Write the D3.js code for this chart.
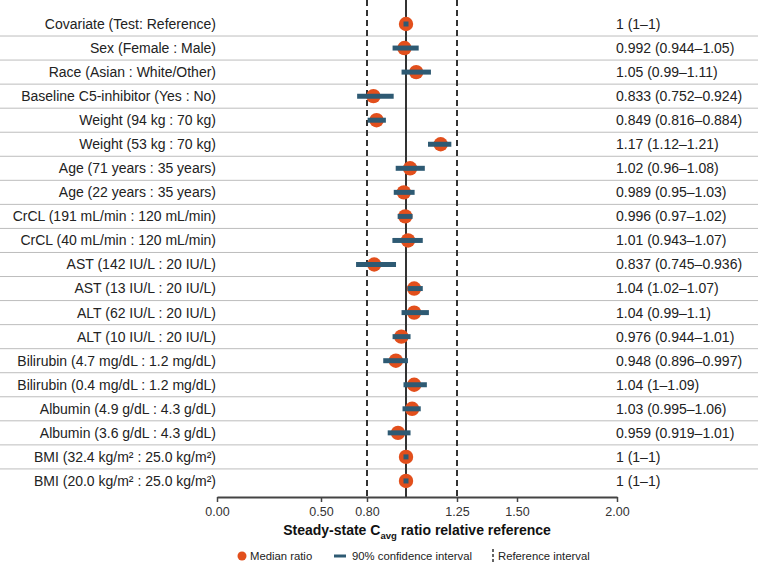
<!DOCTYPE html>
<html>
<head>
<meta charset="utf-8">
<script src="https://cdn.jsdelivr.net/npm/d3@7"></script>
<style>
  body { margin: 0; background: #fff; }
  text { font-family: "Liberation Sans", Arial, sans-serif; }
</style>
</head>
<body>
<div id="chart"></div>
<script>
// covariate rows, top to bottom
var labels = [
  'Covariate (Test: Reference)',
  'Sex (Female : Male)',
  'Race (Asian : White/Other)',
  'Baseline C5-inhibitor (Yes : No)',
  'Weight (94 kg : 70 kg)',
  'Weight (53 kg : 70 kg)',
  'Age (71 years : 35 years)',
  'Age (22 years : 35 years)',
  'CrCL (191 mL/min : 120 mL/min)',
  'CrCL (40 mL/min : 120 mL/min)',
  'AST (142 IU/L : 20 IU/L)',
  'AST (13 IU/L : 20 IU/L)',
  'ALT (62 IU/L : 20 IU/L)',
  'ALT (10 IU/L : 20 IU/L)',
  'Bilirubin (4.7 mg/dL : 1.2 mg/dL)',
  'Bilirubin (0.4 mg/dL : 1.2 mg/dL)',
  'Albumin (4.9 g/dL : 4.3 g/dL)',
  'Albumin (3.6 g/dL : 4.3 g/dL)',
  'BMI (32.4 kg/m\u00b2 : 25.0 kg/m\u00b2)',
  'BMI (20.0 kg/m\u00b2 : 25.0 kg/m\u00b2)'
];
var medians = [1, 0.992, 1.05, 0.833, 0.849, 1.17, 1.02, 0.989, 0.996, 1.01,
               0.837, 1.04, 1.04, 0.976, 0.948, 1.04, 1.03, 0.959, 1, 1];
var ci_lo   = [1, 0.944, 0.99, 0.752, 0.816, 1.12, 0.96, 0.95, 0.97, 0.943,
               0.745, 1.02, 0.99, 0.944, 0.896, 1, 0.995, 0.919, 1, 1];
var ci_hi   = [1, 1.05, 1.11, 0.924, 0.884, 1.21, 1.08, 1.03, 1.02, 1.07,
               0.936, 1.07, 1.1, 1.01, 0.997, 1.09, 1.06, 1.01, 1, 1];
var tick_values = [0, 0.5, 0.8, 1.25, 1.5, 2];
var ref_interval = [0.8, 1.25];
var ref_value = 1;

function ForestPlotter() {
  this._width = 758;
  this._height = 565;
  this._row_top = 24;
  this._row_step = 24.05;
  this._axis_y = 497;
  this._label_x = 216;
  this._value_x = 616;
  this._font_size = '14px';
  this._orange = '#e24f1c';
  this._blue = '#2e5a73';
  this._dark = '#333333';
}

ForestPlotter.prototype._make_x = function() {
  // the source axis is not evenly spaced, so map tick by tick
  return d3.scaleLinear()
    .domain([0, 0.5, 0.8, 1, 1.25, 1.5, 2])
    .range([217, 321, 367, 406, 457, 517, 617]);
}

ForestPlotter.prototype._plot_rows = function(svg, x, y) {
  let N = labels.length;
  let rows = Array.from(Array(N).keys());

  svg.append('g').selectAll('line')
    .data(rows.slice(0, N - 1))
    .join('line')
    .attr('x1', 0).attr('x2', this._width)
    .attr('y1', d => y(d) + this._row_step / 2)
    .attr('y2', d => y(d) + this._row_step / 2)
    .attr('stroke', '#bdbdbd')
    .attr('stroke-width', 1);

  svg.append('g').selectAll('text')
    .data(rows)
    .join('text')
    .attr('x', this._label_x)
    .attr('y', d => y(d))
    .attr('dy', '0.35em')
    .attr('text-anchor', 'end')
    .attr('font-size', this._font_size)
    .attr('fill', '#222')
    .text(d => labels[d]);

  svg.append('g').selectAll('text')
    .data(rows)
    .join('text')
    .attr('x', this._value_x)
    .attr('y', d => y(d))
    .attr('dy', '0.35em')
    .attr('font-size', this._font_size)
    .attr('fill', '#222')
    .text(d => medians[d] + ' (' + ci_lo[d] + '\u2013' + ci_hi[d] + ')');

  // reference lines
  svg.append('g').selectAll('line')
    .data(ref_interval)
    .join('line')
    .attr('x1', d => x(d)).attr('x2', d => x(d))
    .attr('y1', 0).attr('y2', this._axis_y)
    .attr('stroke', this._dark)
    .attr('stroke-width', 2)
    .attr('stroke-dasharray', '6,4');

  svg.append('line')
    .attr('x1', x(ref_value)).attr('x2', x(ref_value))
    .attr('y1', 0).attr('y2', this._axis_y)
    .attr('stroke', this._dark)
    .attr('stroke-width', 2);

  svg.append('g').selectAll('circle')
    .data(rows)
    .join('circle')
    .attr('cx', d => x(medians[d]))
    .attr('cy', d => y(d))
    .attr('r', 7.2)
    .attr('fill', this._orange);

  svg.append('g').selectAll('line')
    .data(rows)
    .join('line')
    .attr('x1', d => x(ci_lo[d])).attr('x2', d => x(ci_hi[d]))
    .attr('y1', d => y(d)).attr('y2', d => y(d))
    .attr('stroke', this._blue)
    .attr('stroke-width', 5)
    .attr('stroke-linecap', 'square');
}

ForestPlotter.prototype._add_axis = function(svg, x) {
  let ax = svg.append('g')
    .attr('transform', 'translate(0,' + this._axis_y + ')')
    .call(d3.axisBottom(x)
      .tickValues(tick_values)
      .tickFormat(d3.format('.2f'))
      .tickSize(5)
      .tickSizeOuter(0));
  ax.select('.domain').attr('stroke', '#444').attr('stroke-width', 2);
  ax.selectAll('.tick line').attr('stroke', '#444').attr('stroke-width', 1.5);
  ax.selectAll('.tick text')
    .attr('font-family', '"Liberation Sans", Arial, sans-serif')
    .attr('font-size', '12.5px')
    .attr('fill', '#333')
    .attr('dy', '0.85em');

  let title = svg.append('text')
    .attr('x', 417)
    .attr('y', 535)
    .attr('text-anchor', 'middle')
    .attr('font-size', '14px')
    .attr('font-weight', 'bold')
    .attr('fill', '#111');
  title.append('tspan').text('Steady-state C');
  title.append('tspan').attr('font-size', '9.5px').attr('dy', 4).text('avg');
  title.append('tspan').attr('dy', -4).text(' ratio relative reference');
}

ForestPlotter.prototype._add_legend = function(svg) {
  let ly = 556;
  let g = svg.append('g').attr('font-size', '11.3px').attr('fill', '#222');
  g.append('circle').attr('cx', 242).attr('cy', ly).attr('r', 4.5).attr('fill', this._orange);
  g.append('text').attr('x', 250).attr('y', ly).attr('dy', '0.35em').text('Median ratio');
  g.append('line').attr('x1', 334).attr('x2', 346).attr('y1', ly).attr('y2', ly)
    .attr('stroke', this._blue).attr('stroke-width', 3);
  g.append('text').attr('x', 352).attr('y', ly).attr('dy', '0.35em').text('90% confidence interval');
  g.append('line').attr('x1', 493).attr('x2', 493).attr('y1', ly - 7).attr('y2', ly + 7)
    .attr('stroke', this._dark).attr('stroke-width', 1.5).attr('stroke-dasharray', '3,2');
  g.append('text').attr('x', 498).attr('y', ly).attr('dy', '0.35em').text('Reference interval');
}

ForestPlotter.prototype.plot = function(container) {
  let svg = d3.select(container).append('svg')
    .attr('width', this._width)
    .attr('height', this._height);
  let x = this._make_x();
  let self = this;
  let y = function(i) { return self._row_top + i * self._row_step; };
  this._plot_rows(svg, x, y);
  this._add_axis(svg, x);
  this._add_legend(svg);
}

new ForestPlotter().plot('#chart');
</script>
</body>
</html>
